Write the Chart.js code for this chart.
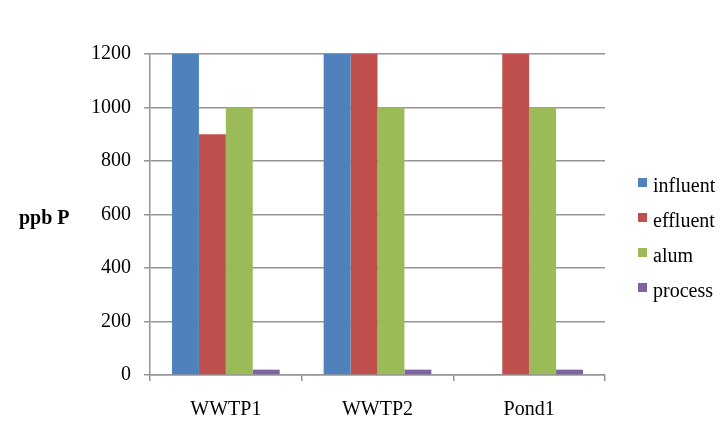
<!DOCTYPE html>
<html>
<head>
<meta charset="utf-8">
<script src="https://cdn.jsdelivr.net/npm/chart.js@4"></script>
<style>
  html, body { margin: 0; padding: 0; background: #fff; }
  #wrap { width: 727px; height: 430px; }
</style>
</head>
<body>
<div id="wrap"><canvas id="chart" width="727" height="430"></canvas></div>
<script>
// sites along the x axis
const sites = ['WWTP1', 'WWTP2', 'Pond1'];

// ppb P per stream (Pond1 has no influent bar)
const influent = [1200, 1200, null];
const effluent = [900, 1200, 1200];
const alum = [1000, 1000, 1000];
const processVals = [20, 20, 20];

const yTicks = [0, 200, 400, 600, 800, 1000, 1200];
const yTitle = 'ppb P';

const serif = "'Liberation Serif', 'Times New Roman', serif";
const axisGrey = '#959595';

// horizontal axis title left of the plot + the legend column on the right
const decorPlugin = {
  id: 'decor',
  afterDraw(chart) {
    const ctx = chart.ctx;
    const area = chart.chartArea;
    ctx.save();
    ctx.fillStyle = '#000';
    ctx.font = 'bold 20px ' + serif;
    ctx.textAlign = 'left';
    ctx.textBaseline = 'middle';
    ctx.fillText(yTitle, 19, (area.top + area.bottom) / 2 + 4);

    // legend: small square, then the label, one row per dataset
    ctx.font = '20px ' + serif;
    ctx.textBaseline = 'alphabetic';
    chart.data.datasets.forEach((ds, i) => {
      const top = area.top + 124 + i * 35;
      const x = area.right + 33;
      ctx.fillStyle = ds.backgroundColor;
      ctx.fillRect(x, top, 9, 9);
      ctx.fillStyle = '#000';
      ctx.fillText(ds.label, x + 15, top + 14);
    });
    ctx.restore();
  }
};

new Chart(document.getElementById('chart'), {
  type: 'bar',
  data: {
    labels: sites,
    datasets: [
      { label: 'influent', data: influent, backgroundColor: '#4F81BD' },
      { label: 'effluent', data: effluent, backgroundColor: '#C0504D' },
      { label: 'alum', data: alum, backgroundColor: '#9BBB59' },
      { label: 'process', data: processVals, backgroundColor: '#8064A2' }
    ]
  },
  options: {
    responsive: false,
    animation: false,
    layout: { padding: { left: 78, right: 122, top: 54, bottom: -9 } },
    datasets: { bar: { categoryPercentage: 0.71, barPercentage: 1.0 } },
    plugins: {
      legend: { display: false },
      tooltip: { enabled: false }
    },
    scales: {
      x: {
        offset: true,
        grid: {
          offset: true,
          drawOnChartArea: false,
          color: axisGrey,
          lineWidth: 1.5,
          tickLength: 6
        },
        border: { color: axisGrey, width: 1.5 },
        ticks: { color: '#000', font: { family: serif, size: 20 }, padding: 17 }
      },
      y: {
        min: 0,
        max: 1200,
        afterBuildTicks(scale) { scale.ticks = yTicks.map(v => ({ value: v })); },
        grid: { color: axisGrey, lineWidth: 1.5, tickLength: 6 },
        border: { color: axisGrey, width: 1.5 },
        ticks: {
          color: '#000',
          font: { family: serif, size: 20 },
          padding: 13,
          callback: v => String(v)
        }
      }
    }
  },
  plugins: [decorPlugin]
});
</script>
</body>
</html>
